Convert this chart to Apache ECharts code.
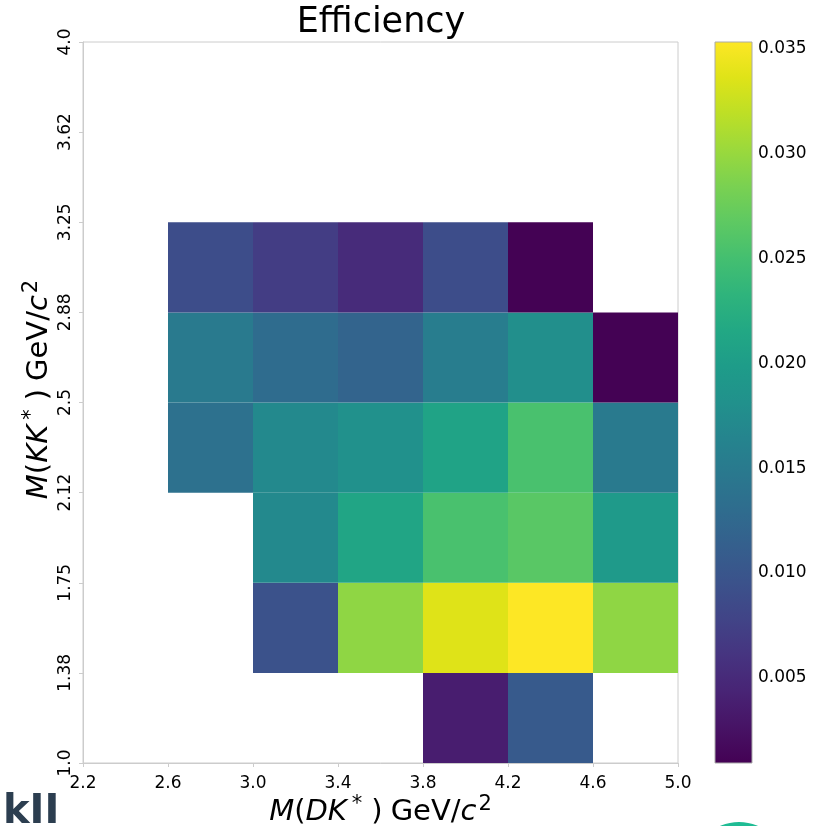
<!DOCTYPE html>
<html>
<head>
<meta charset="utf-8">
<script src="https://cdn.jsdelivr.net/npm/echarts@6/dist/echarts.min.js"></script>
<style>html,body{margin:0;padding:0;background:#fff;}#c{width:823px;height:826px;}</style>
</head>
<body>
<div id="c"></div>
<script>
// Bin edge tick labels
const xEdges = ['2.2', '2.6', '3.0', '3.4', '3.8', '4.2', '4.6', '5.0'];
const yEdges = ['1.0', '1.38', '1.75', '2.12', '2.5', '2.88', '3.25', '3.62', '4.0'];
// Efficiency per bin row (y bin index), one value per x bin (null = empty)
const row0 = [null, null, null, null, 0.0037, 0.0106, null];          // 1.0 - 1.38
const row1 = [null, null, 0.0095, 0.0295, 0.0336, 0.0353, 0.0295];    // 1.38 - 1.75
const row2 = [null, null, 0.0171, 0.0212, 0.0253, 0.0264, 0.0195];    // 1.75 - 2.12
const row3 = [null, 0.0137, 0.0171, 0.0181, 0.0209, 0.0253, 0.0150];  // 2.12 - 2.5
const row4 = [null, 0.0150, 0.0130, 0.0119, 0.0154, 0.0178, 0.0010];  // 2.5 - 2.88
const row5 = [null, 0.0089, 0.0071, 0.0051, 0.0089, 0.0010, null];    // 2.88 - 3.25
const row6 = [null, null, null, null, null, null, null];              // 3.25 - 3.62
const row7 = [null, null, null, null, null, null, null];              // 3.62 - 4.0
const rows = [row0, row1, row2, row3, row4, row5, row6, row7];
const cbMin = 0.00095, cbMax = 0.0353;
const cbTicks = [0.005, 0.010, 0.015, 0.020, 0.025, 0.030, 0.035];
const viridis = ['#440154','#471365','#482475','#463480','#414487','#3b528b','#355f8d','#2f6c8e','#2a788e','#25848e','#21918c','#1e9c89','#22a884','#2fb47c','#44bf70','#5ec962','#7ad151','#9bd93c','#bddf26','#dfe318','#fde725'];

const cells = [];
rows.forEach((r, j) => r.forEach((v, i) => { if (v !== null) cells.push([i, j, v]); }));

const FONT = "'DejaVu Sans', sans-serif";
const spine = '#cccccc';

const chart = echarts.init(document.getElementById('c'), null, {renderer: 'canvas'});
const NS = 29;
const nameRich = {
  i: {fontStyle: 'italic', fontSize: NS, fontFamily: FONT, color: '#000'},
  n: {fontSize: NS, fontFamily: FONT, color: '#000'},
  sp: {fontSize: NS, fontFamily: FONT, color: '#000', padding: [0, 0, 0, 8]},
  s: {fontSize: 21, fontFamily: FONT, color: '#000', padding: [0, 0, 16, 2]},
  st: {fontSize: 21, fontFamily: FONT, color: '#000', padding: [0, 9, 16, 5]}
};
chart.setOption({
  animation: false,
  title: {
    text: 'Efficiency', left: 376, textAlign: 'center', top: 0,
    textStyle: {fontFamily: FONT, fontSize: 35, fontWeight: 'normal', color: '#000'}
  },
  grid: [
    {left: 83, right: 145, top: 42, bottom: 63, show: true, borderColor: spine, borderWidth: 1, outerBoundsMode: 'none', containLabel: false},
    {left: 715, width: 37, top: 42, bottom: 63, show: false, outerBoundsMode: 'none', containLabel: false}
  ],
  xAxis: [
    {
      type: 'value', gridIndex: 0, min: 0, max: xEdges.length - 1, interval: 1,
      axisLine: {show: true, lineStyle: {color: spine}},
      axisTick: {show: true, length: 4, lineStyle: {color: spine}},
      splitLine: {show: false},
      axisLabel: {formatter: v => xEdges[v] || '', fontFamily: FONT, fontSize: 17, color: '#000', margin: 12},
      name: '{i|M}{n|(}{i|DK}{st|*}{n|)}{sp|GeV/}{i|c}{s|2}',
      nameLocation: 'middle', nameGap: 31, nameMoveOverlap: false,
      nameTextStyle: {rich: nameRich}
    },
    {type: 'value', gridIndex: 1, min: 0, max: 1, show: false}
  ],
  yAxis: [
    {
      type: 'value', gridIndex: 0, min: 0, max: yEdges.length - 1, interval: 1,
      axisLine: {show: true, lineStyle: {color: spine}},
      axisTick: {show: true, length: 4, lineStyle: {color: spine}},
      splitLine: {show: false},
      axisLabel: {formatter: v => yEdges[v] || '', fontFamily: FONT, fontSize: 17, color: '#000', rotate: 90, margin: 9},
      name: '{i|M}{n|(}{i|KK}{st|*}{n|)}{sp|GeV/}{i|c}{s|2}',
      nameLocation: 'middle', nameGap: 25, nameRotate: 90, nameMoveOverlap: false,
      nameTextStyle: {rich: nameRich, padding: [0, 0, 0, 26]}
    },
    {
      type: 'value', gridIndex: 1, min: cbMin, max: cbMax, position: 'right',
      axisLine: {show: false},
      axisTick: {show: true, length: 4, lineStyle: {color: '#888'}, customValues: cbTicks},
      splitLine: {show: false},
      axisLabel: {customValues: cbTicks, formatter: v => v.toFixed(3), fontFamily: FONT, fontSize: 17, color: '#000', margin: 6}
    }
  ],
  visualMap: {
    show: false, type: 'continuous', min: cbMin, max: cbMax, dimension: 2, seriesIndex: 0,
    inRange: {color: viridis}
  },
  series: [
    {
      type: 'custom', xAxisIndex: 0, yAxisIndex: 0, data: cells,
      encode: {x: 0, y: 1},
      renderItem: (params, api) => {
        const i = api.value(0), j = api.value(1);
        const p0 = api.coord([i, j + 1]);
        const p1 = api.coord([i + 1, j]);
        return {type: 'rect', shape: {x: p0[0], y: p0[1], width: p1[0] - p0[0], height: p1[1] - p0[1]},
          style: {fill: api.visual('color'), stroke: null}};
      }
    },
    {
      type: 'custom', xAxisIndex: 1, yAxisIndex: 1, data: [[0, cbMin, cbMax]],
      encode: {x: 0, y: [1, 2]},
      renderItem: (params, api) => {
        const p0 = api.coord([0, api.value(2)]);
        const p1 = api.coord([1, api.value(1)]);
        const stops = viridis.map((c, k) => ({offset: 1 - k / (viridis.length - 1), color: c}));
        return {type: 'rect', shape: {x: p0[0], y: p0[1], width: p1[0] - p0[0], height: p1[1] - p0[1]},
          style: {fill: new echarts.graphic.LinearGradient(0, 0, 0, 1, stops.reverse()), stroke: '#aaa', lineWidth: 1}};
      }
    }
  ],
  graphic: [
    {type: 'text', left: 3, top: 793, style: {text: 'kII', font: "bold 40px 'DejaVu Sans', sans-serif", fill: '#2c3e50'}},
    {type: 'circle', shape: {cx: 739, cy: 869, r: 47}, style: {fill: '#1fbc94'}}
  ]
});
</script>
</body>
</html>
